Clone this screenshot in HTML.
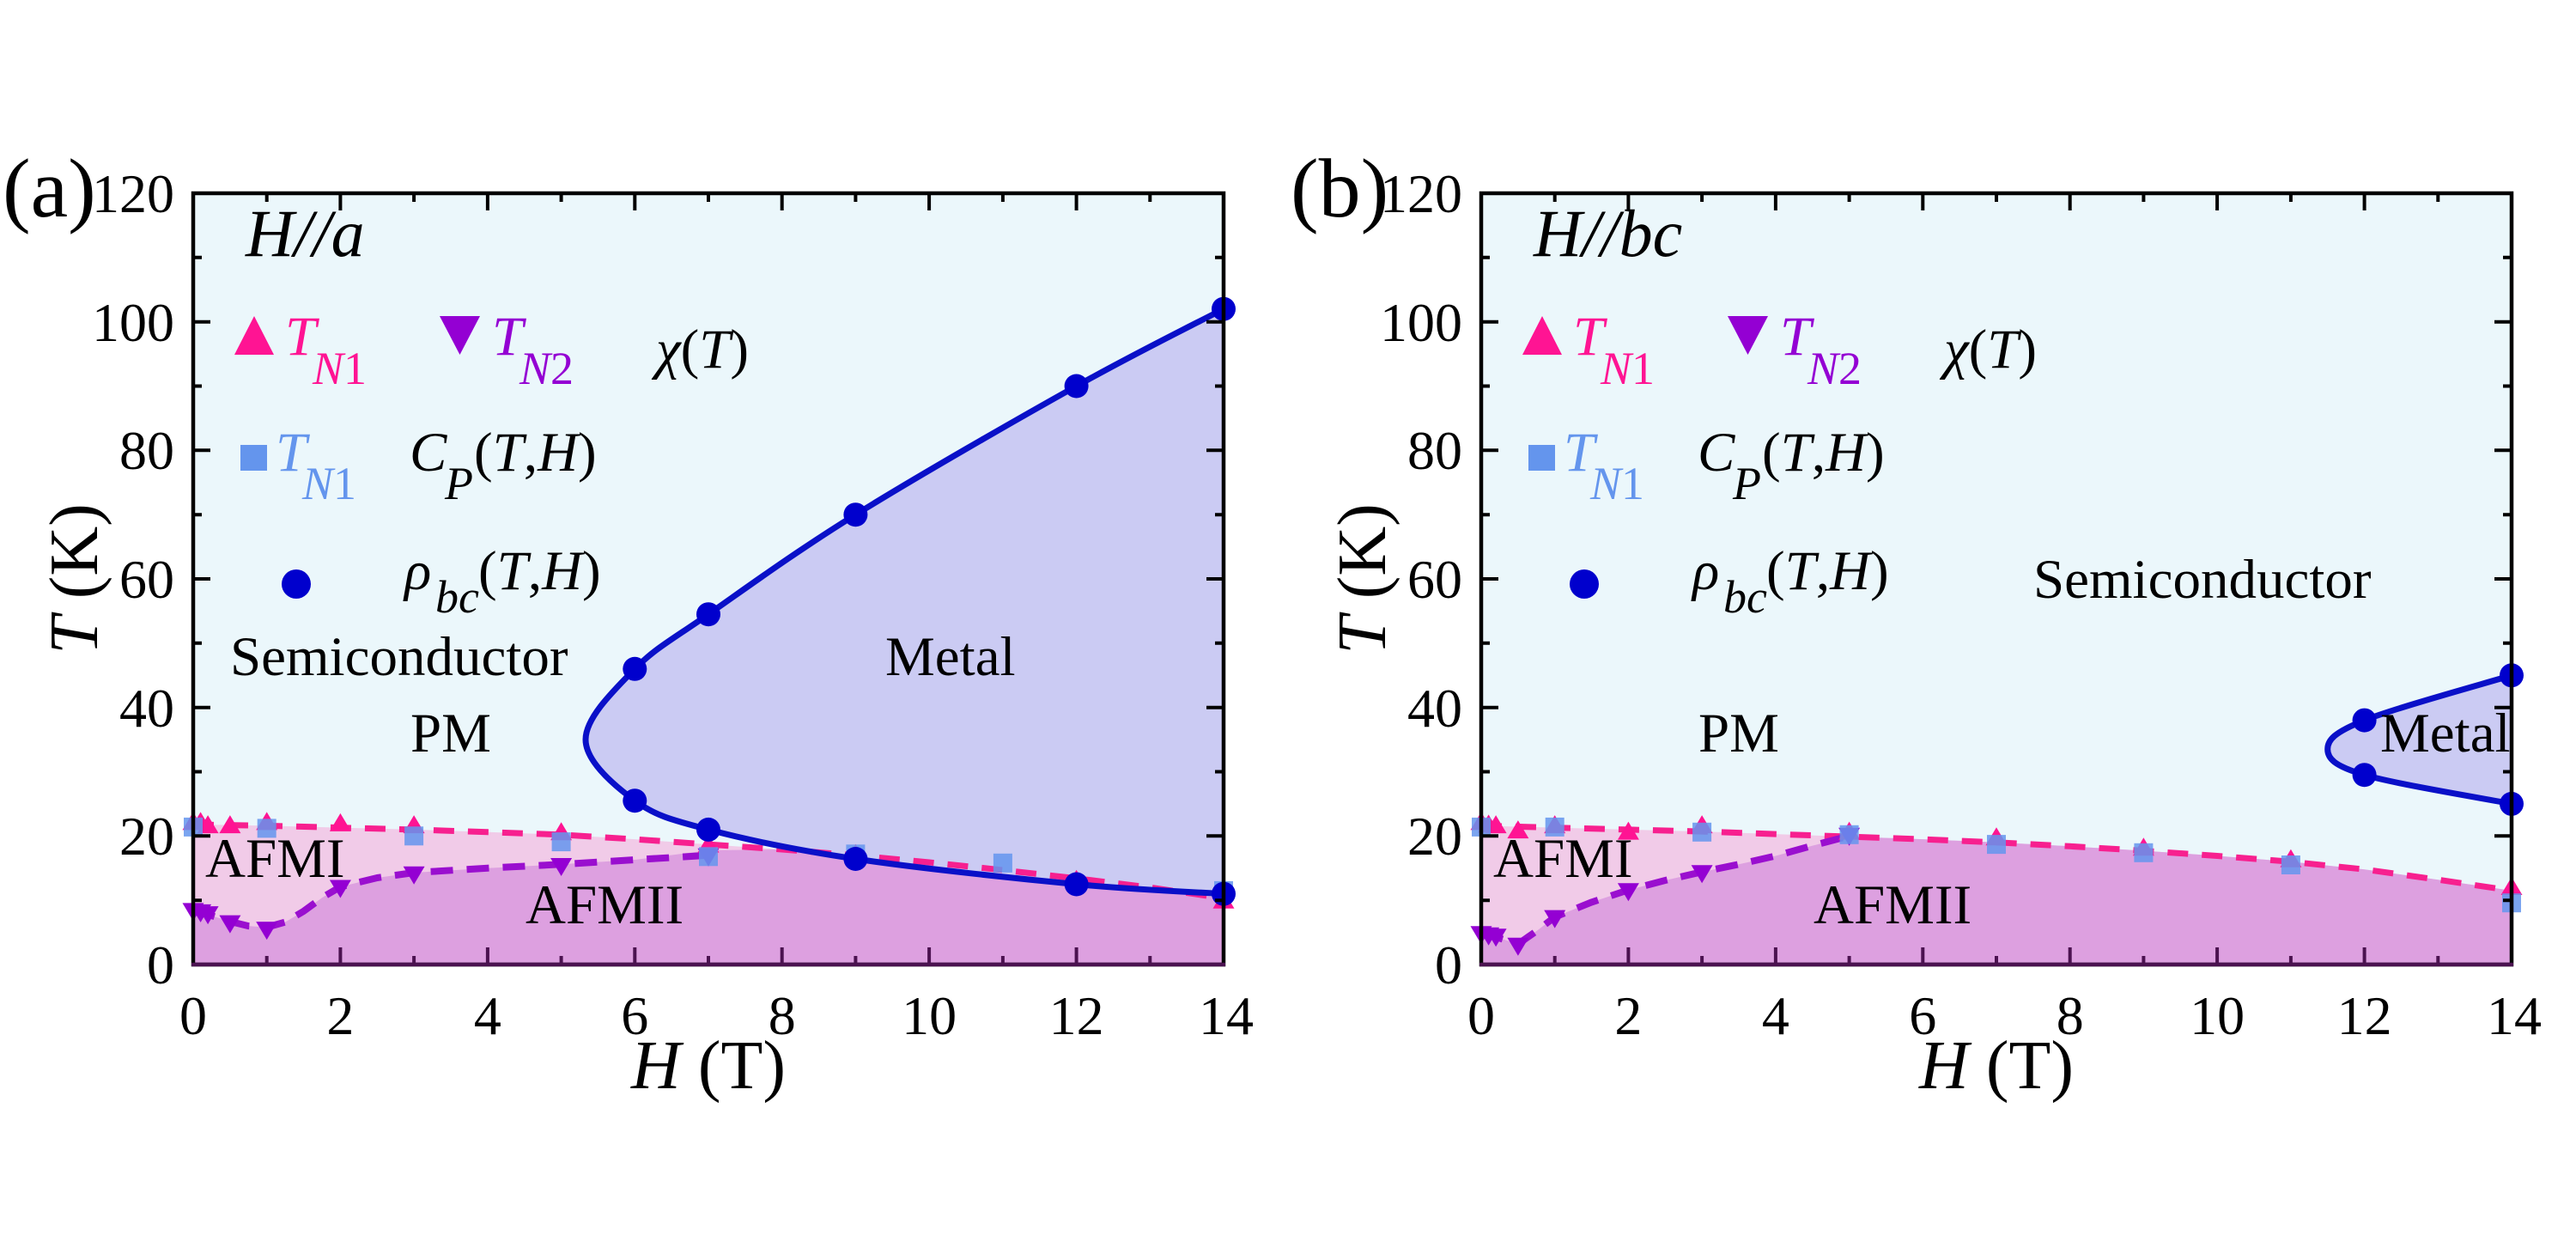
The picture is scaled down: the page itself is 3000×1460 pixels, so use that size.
<!DOCTYPE html>
<html><head><meta charset="utf-8"><style>
html,body{margin:0;padding:0;background:#fff;}
svg{display:block;}
text{font-family:"Liberation Serif","Times New Roman",serif;}
</style></head><body>
<svg width="3000" height="1460" viewBox="0 0 3000 1460" xmlns="http://www.w3.org/2000/svg">
<rect x="0" y="0" width="3000" height="1460" fill="#fff"/>

<!-- ================= PANEL A ================= -->
<g>
<rect x="225" y="225" width="1200" height="898" fill="#EBF7FB"/>
<polygon fill="#F1CBE8" points="225,959.9 310.7,961.4 396.4,963.6 482.1,965.9 567.9,968.8 653.6,971.8 739.3,977.1 825,983.1 910.7,989 996.4,995.8 1082.1,1004 1167.9,1013 1253.6,1022.7 1339.3,1033.2 1425,1045.9 1425,1123 225,1123"/>
<polygon fill="#DDA0E0" points="225,1059.4 246.4,1066.1 267.9,1072.9 289.3,1078.1 310.7,1079.6 332.1,1073.6 353.6,1060.9 375,1045.2 396.4,1032.5 439.3,1022 482.1,1016 567.9,1010.7 653.6,1006.3 739.3,1001 825,990 910.7,989 996.4,995.8 1082.1,1004 1167.9,1013 1253.6,1022.7 1339.3,1033.2 1425,1045.9 1425,1123 225,1123"/>
<path fill="#CBCBF3" d="M1425,359.7 C1396.4,374.7 1325,409.6 1253.6,449.5 C1182.2,489.4 1067.8,554.9 996.4,599.2 C925,643.5 867.9,685.3 825,715.2 C782.2,745.1 763.1,754.5 739.3,778.8 C715.5,803.1 682,835.4 682,861 C682,886.6 715.5,914.7 739.3,932.2 C763.1,949.7 782.2,954.6 825,965.9 C867.9,977.2 925,989.4 996.4,1000 C1067.8,1010.6 1182.2,1022.7 1253.6,1029.5 C1325,1036.3 1396.4,1038.8 1425,1040.7 Z"/>
<polyline fill="none" stroke="#F7208F" stroke-width="7" stroke-dasharray="24 16" points="225,959.9 310.7,961.4 396.4,963.6 482.1,965.9 567.9,968.8 653.6,971.8 739.3,977.1 825,983.1 910.7,989 996.4,995.8 1082.1,1004 1167.9,1013 1253.6,1022.7 1339.3,1033.2 1425,1045.9"/>
<polyline fill="none" stroke="#9A0FCF" stroke-width="8" stroke-dasharray="26 16" stroke-linejoin="round" points="225,1059.4 246.4,1066.1 267.9,1072.9 289.3,1078.1 310.7,1079.6 332.1,1073.6 353.6,1060.9 375,1045.2 396.4,1032.5 439.3,1022 482.1,1016 567.9,1010.7 653.6,1006.3 739.3,1001 825,995.8"/>
<path fill="none" stroke="#0A10C8" stroke-width="7" d="M1425,359.7 C1396.4,374.7 1325,409.6 1253.6,449.5 C1182.2,489.4 1067.8,554.9 996.4,599.2 C925,643.5 867.9,685.3 825,715.2 C782.2,745.1 763.1,754.5 739.3,778.8 C715.5,803.1 682,835.4 682,861 C682,886.6 715.5,914.7 739.3,932.2 C763.1,949.7 782.2,954.6 825,965.9 C867.9,977.2 925,989.4 996.4,1000 C1067.8,1010.6 1182.2,1022.7 1253.6,1029.5 C1325,1036.3 1396.4,1038.8 1425,1040.7"/>
<g fill="#FF1493">
<polygon points="225,945.4 212.5,966.4 237.5,966.4"/>
<polygon points="233.6,945.4 221.1,966.4 246.1,966.4"/>
<polygon points="242.1,949.1 229.6,970.1 254.6,970.1"/>
<polygon points="267.9,949.1 255.4,970.1 280.4,970.1"/>
<polygon points="310.7,945.4 298.2,966.4 323.2,966.4"/>
<polygon points="396.4,946.9 383.9,967.9 408.9,967.9"/>
<polygon points="482.1,949.1 469.6,970.1 494.6,970.1"/>
<polygon points="653.6,957.3 641.1,978.3 666.1,978.3"/>
<polygon points="825,971.6 812.5,992.6 837.5,992.6"/>
<polygon points="996.4,982.8 983.9,1003.8 1008.9,1003.8"/>
<polygon points="1253.6,1012.7 1241.1,1033.7 1266.1,1033.7"/>
<polygon points="1425,1036.7 1412.5,1057.7 1437.5,1057.7"/>
</g>
<g fill="#9400D3">
<polygon points="212.5,1051.4 237.5,1051.4 225,1072.4"/>
<polygon points="221.1,1052.9 246.1,1052.9 233.6,1073.9"/>
<polygon points="229.6,1055.1 254.6,1055.1 242.1,1076.1"/>
<polygon points="255.4,1065.6 280.4,1065.6 267.9,1086.6"/>
<polygon points="298.2,1073.1 323.2,1073.1 310.7,1094.1"/>
<polygon points="383.9,1024.5 408.9,1024.5 396.4,1045.5"/>
<polygon points="469.6,1008.7 494.6,1008.7 482.1,1029.7"/>
<polygon points="641.1,999 666.1,999 653.6,1020"/>
<polygon points="812.5,987.8 837.5,987.8 825,1008.8"/>
</g>
<g fill="#6495ED" fill-opacity="0.85">
<rect x="214" y="951.9" width="22" height="22"/>
<rect x="299.7" y="953.4" width="22" height="22"/>
<rect x="471.1" y="962.3" width="22" height="22"/>
<rect x="642.6" y="969.1" width="22" height="22"/>
<rect x="814" y="986.3" width="22" height="22"/>
<rect x="985.4" y="983.3" width="22" height="22"/>
<rect x="1156.9" y="993.8" width="22" height="22"/>
<rect x="1414" y="1025.9" width="22" height="22"/>
</g>
<g fill="#0000CD">
<circle cx="739.3" cy="778.8" r="14"/>
<circle cx="739.3" cy="932.2" r="14"/>
<circle cx="825" cy="715.2" r="14"/>
<circle cx="825" cy="965.9" r="14"/>
<circle cx="996.4" cy="599.2" r="14"/>
<circle cx="996.4" cy="1000" r="14"/>
<circle cx="1253.6" cy="449.5" r="14"/>
<circle cx="1253.6" cy="1029.5" r="14"/>
<circle cx="1425" cy="359.7" r="14"/>
<circle cx="1425" cy="1040.7" r="14"/>
</g>
<rect x="225" y="225" width="1200" height="898" fill="none" stroke="#000" stroke-width="4.5"/>
<line x1="223" y1="1123" x2="1427" y2="1123" stroke="#4B1250" stroke-width="4.5"/>
<path fill="none" stroke="#4B1250" stroke-width="4" d="M396.4,1123v-20M567.9,1123v-20M739.3,1123v-20M910.7,1123v-20M1082.1,1123v-20M1253.6,1123v-20M310.7,1123v-10M482.1,1123v-10M653.6,1123v-10M825,1123v-10M996.4,1123v-10M1167.9,1123v-10M1339.3,1123v-10"/>
<path fill="none" stroke="#000" stroke-width="4" d="M396.4,225v20M567.9,225v20M739.3,225v20M910.7,225v20M1082.1,225v20M1253.6,225v20M310.7,225v10M482.1,225v10M653.6,225v10M825,225v10M996.4,225v10M1167.9,225v10M1339.3,225v10
M225,973.3h20M225,823.7h20M225,674h20M225,524.3h20M225,374.7h20M225,1048.2h10M225,898.5h10M225,748.8h10M225,599.2h10M225,449.5h10M225,299.8h10
M1425,973.3h-20M1425,823.7h-20M1425,674h-20M1425,524.3h-20M1425,374.7h-20M1425,1048.2h-10M1425,898.5h-10M1425,748.8h-10M1425,599.2h-10M1425,449.5h-10M1425,299.8h-10"/>
<g font-size="64" fill="#000" text-anchor="end">
<text x="203" y="1145">0</text>
<text x="203" y="995">20</text>
<text x="203" y="846">40</text>
<text x="203" y="696">60</text>
<text x="203" y="546">80</text>
<text x="203" y="397">100</text>
<text x="203" y="247">120</text>
</g>
<g font-size="64" fill="#000" text-anchor="middle">
<text x="225" y="1204">0</text>
<text x="396.4" y="1204">2</text>
<text x="567.9" y="1204">4</text>
<text x="739.3" y="1204">6</text>
<text x="910.7" y="1204">8</text>
<text x="1082.1" y="1204">10</text>
<text x="1253.6" y="1204">12</text>
<text x="1428" y="1204">14</text>
</g>
<text x="825" y="1267" font-size="80" text-anchor="middle"><tspan font-style="italic">H</tspan> (T)</text>
<text transform="translate(113,674) rotate(-90)" font-size="80" text-anchor="middle"><tspan font-style="italic">T</tspan> (K)</text>
<text x="3" y="252" font-size="98">(a)</text>
<text x="286" y="298" font-size="78" font-style="italic">H//a</text>
<polygon points="296,368 273,413 319,413" fill="#FF1493"/>
<text font-size="65" fill="#FF1493" font-style="italic"><tspan x="332" y="413">T</tspan><tspan x="364" y="447" font-size="54">N</tspan><tspan font-size="54" font-style="normal">1</tspan></text>
<polygon points="512,368 559,368 535.5,413" fill="#9400D3"/>
<text font-size="65" fill="#9400D3" font-style="italic"><tspan x="573" y="413">T</tspan><tspan x="605" y="447" font-size="54">N</tspan><tspan font-size="54" font-style="normal">2</tspan></text>
<text font-size="65" fill="#000" x="764" y="428"><tspan font-style="italic">χ</tspan>(<tspan font-style="italic">T</tspan>)</text>
<rect x="280" y="518" width="31" height="30" fill="#6495ED"/>
<text font-size="65" fill="#6495ED" font-style="italic"><tspan x="321" y="548">T</tspan><tspan x="352" y="581" font-size="54">N</tspan><tspan font-size="54" font-style="normal">1</tspan></text>
<text font-size="65" fill="#000"><tspan x="477" y="548" font-style="italic">C</tspan><tspan x="518" y="581" font-size="54" font-style="italic">P</tspan><tspan x="552" y="548">(</tspan><tspan font-style="italic">T</tspan>,<tspan font-style="italic">H</tspan>)</text>
<circle cx="345" cy="680" r="17" fill="#0000CD"/>
<text font-size="65" fill="#000"><tspan x="471" y="686" font-style="italic">ρ</tspan><tspan x="507" y="713" font-size="54" font-style="italic">bc</tspan><tspan x="557" y="686">(</tspan><tspan font-style="italic">T</tspan>,<tspan font-style="italic">H</tspan>)</text>
<g font-size="65" fill="#000">
<text x="268" y="786">Semiconductor</text>
<text x="478" y="875">PM</text>
<text x="1031" y="786">Metal</text>
<text x="239" y="1021">AFMI</text>
<text x="612" y="1075">AFMII</text>
</g>
</g>

<!-- ================= PANEL B ================= -->
<g transform="translate(1500,0)">
<rect x="225" y="225" width="1200" height="898" fill="#EBF7FB"/>
<polygon fill="#F1CBE8" points="225,961.4 310.7,963.6 396.4,965.9 482.1,968.1 567.9,971.1 653.6,974.1 739.3,977.1 825,980.8 910.7,985.3 996.4,990.5 1082.1,996.5 1167.9,1003.3 1253.6,1012.2 1339.3,1024.2 1425,1036.9 1425,1123 225,1123"/>
<polygon fill="#DDA0E0" points="225,1086.3 246.4,1092.3 267.9,1099.1 289.3,1084.1 310.7,1067.6 353.6,1050.4 396.4,1036.2 439.3,1025 482.1,1015.2 525,1006.3 567.9,996.5 610.7,984.6 653.6,974.1 739.3,977.1 825,980.8 910.7,985.3 996.4,990.5 1082.1,996.5 1167.9,1003.3 1253.6,1012.2 1339.3,1024.2 1425,1036.9 1425,1123 225,1123"/>
<path fill="#CBCBF3" d="M1425,786.3 C1396.4,795 1289.3,824.3 1253.6,838.6 C1217.9,852.9 1210.7,861.7 1210.7,872.3 C1210.7,882.9 1217.9,891.6 1253.6,902.2 C1289.3,912.8 1396.4,930.3 1425,935.9 Z"/>
<polyline fill="none" stroke="#F7208F" stroke-width="7" stroke-dasharray="24 16" points="225,961.4 310.7,963.6 396.4,965.9 482.1,968.1 567.9,971.1 653.6,974.1 739.3,977.1 825,980.8 910.7,985.3 996.4,990.5 1082.1,996.5 1167.9,1003.3 1253.6,1012.2 1339.3,1024.2 1425,1036.9"/>
<polyline fill="none" stroke="#9A0FCF" stroke-width="8" stroke-dasharray="26 16" stroke-linejoin="round" points="225,1086.3 246.4,1092.3 267.9,1099.1 289.3,1084.1 310.7,1067.6 353.6,1050.4 396.4,1036.2 439.3,1025 482.1,1015.2 525,1006.3 567.9,996.5 610.7,984.6 653.6,973.3"/>
<path fill="none" stroke="#0A10C8" stroke-width="7" d="M1425,786.3 C1396.4,795 1289.3,824.3 1253.6,838.6 C1217.9,852.9 1210.7,861.7 1210.7,872.3 C1210.7,882.9 1217.9,891.6 1253.6,902.2 C1289.3,912.8 1396.4,930.3 1425,935.9"/>
<g fill="#FF1493">
<polygon points="225,945.4 212.5,966.4 237.5,966.4"/>
<polygon points="233.6,948.4 221.1,969.4 246.1,969.4"/>
<polygon points="242.1,949.1 229.6,970.1 254.6,970.1"/>
<polygon points="267.9,955.1 255.4,976.1 280.4,976.1"/>
<polygon points="310.7,949.1 298.2,970.1 323.2,970.1"/>
<polygon points="396.4,956.6 383.9,977.6 408.9,977.6"/>
<polygon points="482.1,949.1 469.6,970.1 494.6,970.1"/>
<polygon points="653.6,956.6 641.1,977.6 666.1,977.6"/>
<polygon points="825,963.3 812.5,984.3 837.5,984.3"/>
<polygon points="996.4,975.3 983.9,996.3 1008.9,996.3"/>
<polygon points="1167.9,988.8 1155.4,1009.8 1180.4,1009.8"/>
<polygon points="1425,1021 1412.5,1042 1437.5,1042"/>
</g>
<g fill="#9400D3">
<polygon points="212.5,1078.3 237.5,1078.3 225,1099.3"/>
<polygon points="221.1,1079.8 246.1,1079.8 233.6,1100.8"/>
<polygon points="229.6,1081.3 254.6,1081.3 242.1,1102.3"/>
<polygon points="255.4,1091.8 280.4,1091.8 267.9,1112.8"/>
<polygon points="298.2,1059.6 323.2,1059.6 310.7,1080.6"/>
<polygon points="383.9,1028.2 408.9,1028.2 396.4,1049.2"/>
<polygon points="469.6,1007.2 494.6,1007.2 482.1,1028.2"/>
<polygon points="641.1,963.8 666.1,963.8 653.6,984.8"/>
</g>
<g fill="#6495ED" fill-opacity="0.85">
<rect x="214" y="951.9" width="22" height="22"/>
<rect x="299.7" y="951.9" width="22" height="22"/>
<rect x="471.1" y="957.8" width="22" height="22"/>
<rect x="642.6" y="960.8" width="22" height="22"/>
<rect x="814" y="972.1" width="22" height="22"/>
<rect x="985.4" y="981.8" width="22" height="22"/>
<rect x="1156.9" y="996" width="22" height="22"/>
<rect x="1414" y="1040.2" width="22" height="22"/>
</g>
<g fill="#0000CD">
<circle cx="1253.6" cy="838.6" r="14"/>
<circle cx="1253.6" cy="902.2" r="14"/>
<circle cx="1425" cy="786.3" r="14"/>
<circle cx="1425" cy="935.9" r="14"/>
</g>
<rect x="225" y="225" width="1200" height="898" fill="none" stroke="#000" stroke-width="4.5"/>
<line x1="223" y1="1123" x2="1427" y2="1123" stroke="#4B1250" stroke-width="4.5"/>
<path fill="none" stroke="#4B1250" stroke-width="4" d="M396.4,1123v-20M567.9,1123v-20M739.3,1123v-20M910.7,1123v-20M1082.1,1123v-20M1253.6,1123v-20M310.7,1123v-10M482.1,1123v-10M653.6,1123v-10M825,1123v-10M996.4,1123v-10M1167.9,1123v-10M1339.3,1123v-10"/>
<path fill="none" stroke="#000" stroke-width="4" d="M396.4,225v20M567.9,225v20M739.3,225v20M910.7,225v20M1082.1,225v20M1253.6,225v20M310.7,225v10M482.1,225v10M653.6,225v10M825,225v10M996.4,225v10M1167.9,225v10M1339.3,225v10
M225,973.3h20M225,823.7h20M225,674h20M225,524.3h20M225,374.7h20M225,1048.2h10M225,898.5h10M225,748.8h10M225,599.2h10M225,449.5h10M225,299.8h10
M1425,973.3h-20M1425,823.7h-20M1425,674h-20M1425,524.3h-20M1425,374.7h-20M1425,1048.2h-10M1425,898.5h-10M1425,748.8h-10M1425,599.2h-10M1425,449.5h-10M1425,299.8h-10"/>
<g font-size="64" fill="#000" text-anchor="end">
<text x="203" y="1145">0</text>
<text x="203" y="995">20</text>
<text x="203" y="846">40</text>
<text x="203" y="696">60</text>
<text x="203" y="546">80</text>
<text x="203" y="397">100</text>
<text x="203" y="247">120</text>
</g>
<g font-size="64" fill="#000" text-anchor="middle">
<text x="225" y="1204">0</text>
<text x="396.4" y="1204">2</text>
<text x="567.9" y="1204">4</text>
<text x="739.3" y="1204">6</text>
<text x="910.7" y="1204">8</text>
<text x="1082.1" y="1204">10</text>
<text x="1253.6" y="1204">12</text>
<text x="1428" y="1204">14</text>
</g>
<text x="825" y="1267" font-size="80" text-anchor="middle"><tspan font-style="italic">H</tspan> (T)</text>
<text transform="translate(113,674) rotate(-90)" font-size="80" text-anchor="middle"><tspan font-style="italic">T</tspan> (K)</text>
<text x="3" y="252" font-size="98">(b)</text>
<text x="286" y="298" font-size="78" font-style="italic">H//bc</text>
<polygon points="296,368 273,413 319,413" fill="#FF1493"/>
<text font-size="65" fill="#FF1493" font-style="italic"><tspan x="332" y="413">T</tspan><tspan x="364" y="447" font-size="54">N</tspan><tspan font-size="54" font-style="normal">1</tspan></text>
<polygon points="512,368 559,368 535.5,413" fill="#9400D3"/>
<text font-size="65" fill="#9400D3" font-style="italic"><tspan x="573" y="413">T</tspan><tspan x="605" y="447" font-size="54">N</tspan><tspan font-size="54" font-style="normal">2</tspan></text>
<text font-size="65" fill="#000" x="764" y="428"><tspan font-style="italic">χ</tspan>(<tspan font-style="italic">T</tspan>)</text>
<rect x="280" y="518" width="31" height="30" fill="#6495ED"/>
<text font-size="65" fill="#6495ED" font-style="italic"><tspan x="321" y="548">T</tspan><tspan x="352" y="581" font-size="54">N</tspan><tspan font-size="54" font-style="normal">1</tspan></text>
<text font-size="65" fill="#000"><tspan x="477" y="548" font-style="italic">C</tspan><tspan x="518" y="581" font-size="54" font-style="italic">P</tspan><tspan x="552" y="548">(</tspan><tspan font-style="italic">T</tspan>,<tspan font-style="italic">H</tspan>)</text>
<circle cx="345" cy="680" r="17" fill="#0000CD"/>
<text font-size="65" fill="#000"><tspan x="471" y="686" font-style="italic">ρ</tspan><tspan x="507" y="713" font-size="54" font-style="italic">bc</tspan><tspan x="557" y="686">(</tspan><tspan font-style="italic">T</tspan>,<tspan font-style="italic">H</tspan>)</text>
<g font-size="65" fill="#000">
<text x="868" y="696">Semiconductor</text>
<text x="478" y="875">PM</text>
<text x="1272" y="875">Metal</text>
<text x="239" y="1021">AFMI</text>
<text x="612" y="1075">AFMII</text>
</g>
</g>
</svg>
</body></html>
